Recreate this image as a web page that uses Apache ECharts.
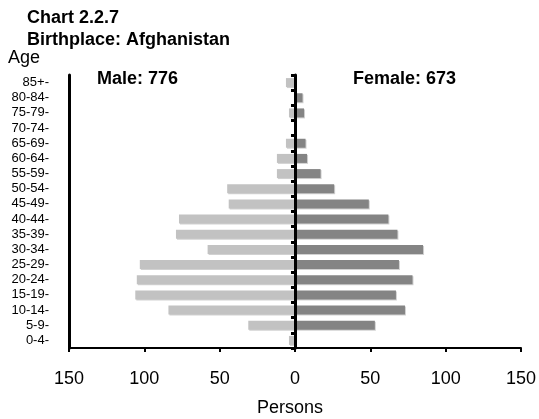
<!DOCTYPE html>
<html>
<head>
<meta charset="utf-8">
<script src="https://cdn.jsdelivr.net/npm/echarts@6/dist/echarts.min.js"></script>
<style>
html,body{margin:0;padding:0;background:#fff;}
#chart{width:539px;height:419px;}
</style>
</head>
<body>
<div id="chart"></div>
<script>
// Age groups, bottom to top
const ageGroups = ["0-4","5-9","10-14","15-19","20-24","25-29","30-34","35-39","40-44","45-49","50-54","55-59","60-64","65-69","70-74","75-79","80-84","85+"];
const maleValues = [4,31,84,106,105,103,58,79,77,44,45,12,12,6,0,4,0,6];
const femaleValues = [0,53,73,67,78,69,85,68,62,49,26,17,8,7,0,6,5,0];
const xTicks = [-150,-100,-50,0,50,100,150];
const titleLines = ["Chart 2.2.7","Birthplace: Afghanistan"];
const maleLabel = "Male: 776";
const femaleLabel = "Female: 673";

const FONT = "'Liberation Sans', Arial, sans-serif";
const chart = echarts.init(document.getElementById('chart'), null, {renderer:'canvas'});

chart.setOption({
  animation: false,
  backgroundColor: '#ffffff',
  textStyle: {fontFamily: FONT},
  grid: {left: 69, right: 18, top: 75, bottom: 71, containLabel: false},
  xAxis: {
    type: 'value',
    min: xTicks[0], max: xTicks[xTicks.length-1], interval: 50,
    axisLine: {show: true, onZero: false, lineStyle: {color: '#000', width: 2}},
    axisTick: {show: true, length: 4, lineStyle: {color: '#000', width: 2}},
    splitLine: {show: false},
    axisLabel: {
      color: '#000', fontSize: 18, fontFamily: FONT, margin: 22,
      formatter: v => String(Math.abs(v))
    }
  },
  yAxis: [
    {
      type: 'category',
      data: ageGroups,
      position: 'left',
      axisLine: {show: true, onZero: false, lineStyle: {color: '#000', width: 3}},
      axisTick: {show: false},
      axisLabel: {color: '#000', fontSize: 13, fontFamily: FONT, margin: 20, interval: 0, formatter: v => v + '-'},
      splitLine: {show: false}
    },
    {
      type: 'category',
      data: ageGroups,
      position: 'left',
      z: 10,
      axisLine: {show: true, onZero: true, onZeroAxisIndex: 0, lineStyle: {color: '#000', width: 3}},
      axisTick: {show: true, interval: 0, length: 4, lineStyle: {color: '#000', width: 3}},
      axisLabel: {show: false},
      splitLine: {show: false}
    }
  ],
  series: [
    {
      name: 'Male', type: 'bar', yAxisIndex: 0,
      data: maleValues.map(v => -v),
      barWidth: 9, barGap: '-100%',
      itemStyle: {color: '#c2c2c2', shadowColor: 'rgba(0,0,0,0.18)', shadowBlur: 0, shadowOffsetX: 1, shadowOffsetY: 1}
    },
    {
      name: 'Female', type: 'bar', yAxisIndex: 0,
      data: femaleValues,
      barWidth: 9, barGap: '-100%',
      itemStyle: {color: '#848484', shadowColor: 'rgba(0,0,0,0.18)', shadowBlur: 0, shadowOffsetX: 1, shadowOffsetY: 1}
    }
  ],
  graphic: [
    {type: 'text', left: 27, top: 9, style: {text: titleLines[0], font: 'bold 18px ' + FONT, fill: '#000'}},
    {type: 'text', left: 27, top: 31, style: {text: titleLines[1], font: 'bold 18px ' + FONT, fill: '#000'}},
    {type: 'text', left: 8, top: 49, style: {text: 'Age', font: '18px ' + FONT, fill: '#000'}},
    {type: 'text', left: 97, top: 70, style: {text: maleLabel, font: 'bold 18px ' + FONT, fill: '#000'}},
    {type: 'text', left: 353, top: 70, style: {text: femaleLabel, font: 'bold 18px ' + FONT, fill: '#000'}},
    {type: 'text', left: 257, top: 399, style: {text: 'Persons', font: '18px ' + FONT, fill: '#000'}}
  ]
});
</script>
</body>
</html>
